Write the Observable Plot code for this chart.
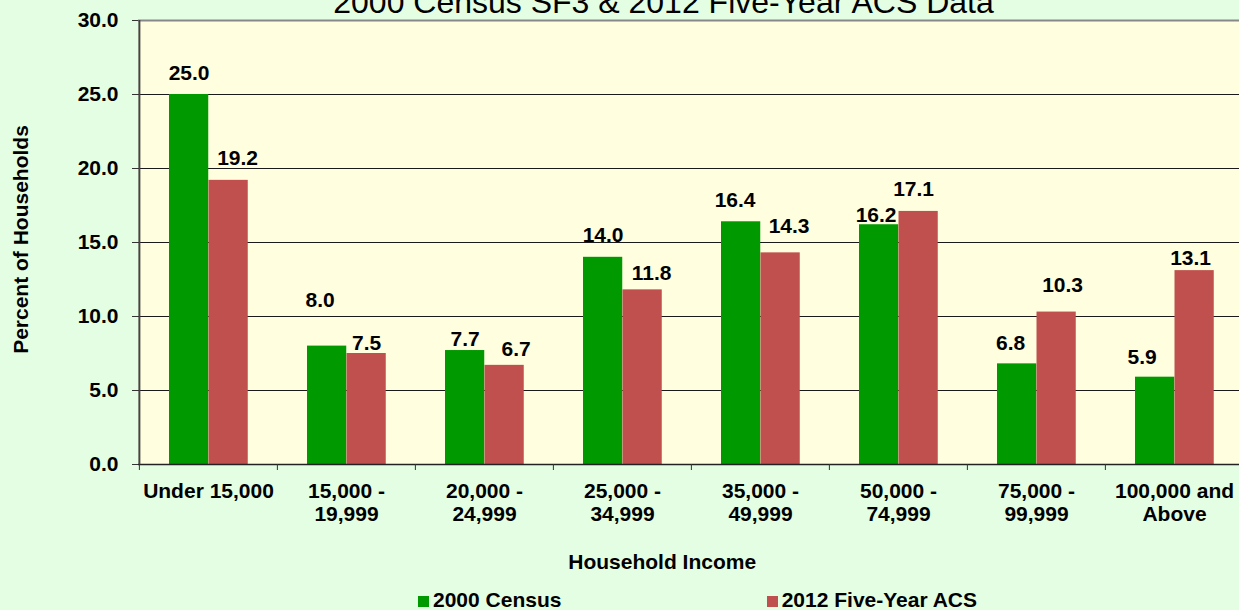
<!DOCTYPE html>
<html>
<head>
<meta charset="utf-8">
<script src="https://cdn.jsdelivr.net/npm/d3@7"></script>
<script src="https://cdn.jsdelivr.net/npm/@observablehq/plot@0.6"></script>
<style>
  html, body { margin: 0; padding: 0; background: #E4FEE4; overflow: hidden; }
  #wrap { position: relative; width: 1239px; height: 610px; overflow: hidden; background: #E4FEE4;
          font-family: "Liberation Sans", Arial, sans-serif; }
  #wrap svg { position: absolute; left: 0; top: 0; overflow: hidden; }
  .legend { position: absolute; top: 588.9px; font-size: 21px; font-weight: bold; line-height: 21px; white-space: nowrap; color: #000; }
  .legend .sw { display: inline-block; width: 11px; height: 11px; margin-right: 4px; vertical-align: baseline; }
</style>
</head>
<body>
<div id="wrap"></div>
<script>
const categories = ["Under 15,000", "15,000 -\n19,999", "20,000 -\n24,999", "25,000 -\n34,999",
  "35,000 -\n49,999", "50,000 -\n74,999", "75,000 -\n99,999", "100,000 and\nAbove"];
const census2000 = [25.0, 8.0, 7.7, 14.0, 16.4, 16.2, 6.8, 5.9];
const acs2012 = [19.2, 7.5, 6.7, 11.8, 14.3, 17.1, 10.3, 13.1];
const seriesNames = ["2000 Census", "2012 Five-Year ACS"];
const yTicks = [0, 5, 10, 15, 20, 25, 30];
const gridTicks = [5, 10, 15, 20, 25];
const titleText = "2000 Census SF3 & 2012 Five-Year ACS Data";
const xTitle = "Household Income";
const yTitle = "Percent of Households";

// styling
const colors = ["#009900", "#C0504D"];
const font = 21;
const band = 138.25;
const half = band / 2;
// label nudges (pixels) to mimic the hand-placed labels of the original
const nudgeGreen = [[0,0],[-7,-24],[0,10],[0,0],[-6,0],[-3,12.5],[-6.5,1.5],[-13,2]];
const nudgeRed = [[9,0],[0,11],[11.5,6],[9,5.5],[8.5,-5],[-5,0],[6,-5],[-4,9]];

const green = categories.map((c, i) => ({cat: c, value: census2000[i]}));
const red = categories.map((c, i) => ({cat: c, value: acs2012[i]}));

const labelMarks = [];
green.forEach((d, i) => labelMarks.push(Plot.text([d], {
  x: "cat", y: "value", text: d => d.value.toFixed(1), lineAnchor: "bottom",
  dx: -19.4 + nudgeGreen[i][0], dy: -15 + nudgeGreen[i][1],
  fontSize: font, fontWeight: "bold", fill: "#000"
})));
red.forEach((d, i) => labelMarks.push(Plot.text([d], {
  x: "cat", y: "value", text: d => d.value.toFixed(1), lineAnchor: "bottom",
  dx: 20.1 + nudgeRed[i][0], dy: -15 + nudgeRed[i][1],
  fontSize: font, fontWeight: "bold", fill: "#000"
})));

const chart = Plot.plot({
  width: 1239,
  height: 610,
  marginLeft: 138,
  marginRight: 0,
  marginTop: 20,
  marginBottom: 146,
  style: {background: "transparent", fontFamily: "'Liberation Sans', Arial, sans-serif", overflow: "hidden"},
  x: {domain: categories, range: [138.25, 138.25 + band * categories.length], padding: 0, axis: null},
  y: {domain: [0, 30], axis: null},
  marks: [
    Plot.frame({fill: "#FFFFE0", stroke: "none"}),
    Plot.ruleY(gridTicks, {stroke: "#1a1a1a", strokeWidth: 1}),
    Plot.ruleY([30], {stroke: "#888888", strokeWidth: 2}),
    Plot.barY(green, {x: "cat", y: "value", fill: colors[0], insetLeft: 30, insetRight: band - 69.5}),
    Plot.barY(red, {x: "cat", y: "value", fill: colors[1], insetLeft: 69.5, insetRight: band - 109}),
    Plot.ruleY([0], {stroke: "#222", strokeWidth: 1.5}),
    Plot.ruleX([categories[0]], {x: d => d, y1: 0, y2: 30, dx: -half, stroke: "#444", strokeWidth: 2}),
    Plot.axisY({ticks: yTicks, tickFormat: d => d.toFixed(1), tickSize: 6, tickPadding: 14,
      fontSize: font, fontWeight: "bold", label: null, stroke: "#333", fill: "#000"}),
    Plot.axisX({ticks: categories, tickFormat: () => "", tickSize: 6, dx: -half, label: null, stroke: "#333"}),
    Plot.text(categories, {x: d => d, frameAnchor: "bottom", lineAnchor: "top", dy: 16.15,
      lineHeight: 1.13, fontSize: font, fontWeight: "bold", fill: "#000"}),
    ...labelMarks,
    Plot.text([titleText], {frameAnchor: "top", lineAnchor: "bottom", textAnchor: "middle", dy: -7.3, dx: -25.5,
      fontSize: 32, fontWeight: "normal", fill: "#000"}),
    Plot.text([xTitle], {frameAnchor: "bottom", lineAnchor: "bottom", textAnchor: "middle", dy: 104.3, dx: -26.8,
      fontSize: font, fontWeight: "bold", fill: "#000"}),
    Plot.text([yTitle], {frameAnchor: "left", lineAnchor: "bottom", textAnchor: "middle", rotate: -90, dx: -111, dy: -3,
      fontSize: font, fontWeight: "bold", fill: "#000"})
  ]
});

const wrap = document.getElementById("wrap");
wrap.appendChild(chart);

const legendPos = [418, 766.7];
seriesNames.forEach((name, i) => {
  const div = document.createElement("div");
  div.className = "legend";
  div.style.left = legendPos[i] + "px";
  const sw = document.createElement("span");
  sw.className = "sw";
  sw.style.background = colors[i];
  div.appendChild(sw);
  div.appendChild(document.createTextNode(name));
  wrap.appendChild(div);
});
</script>
</body>
</html>
